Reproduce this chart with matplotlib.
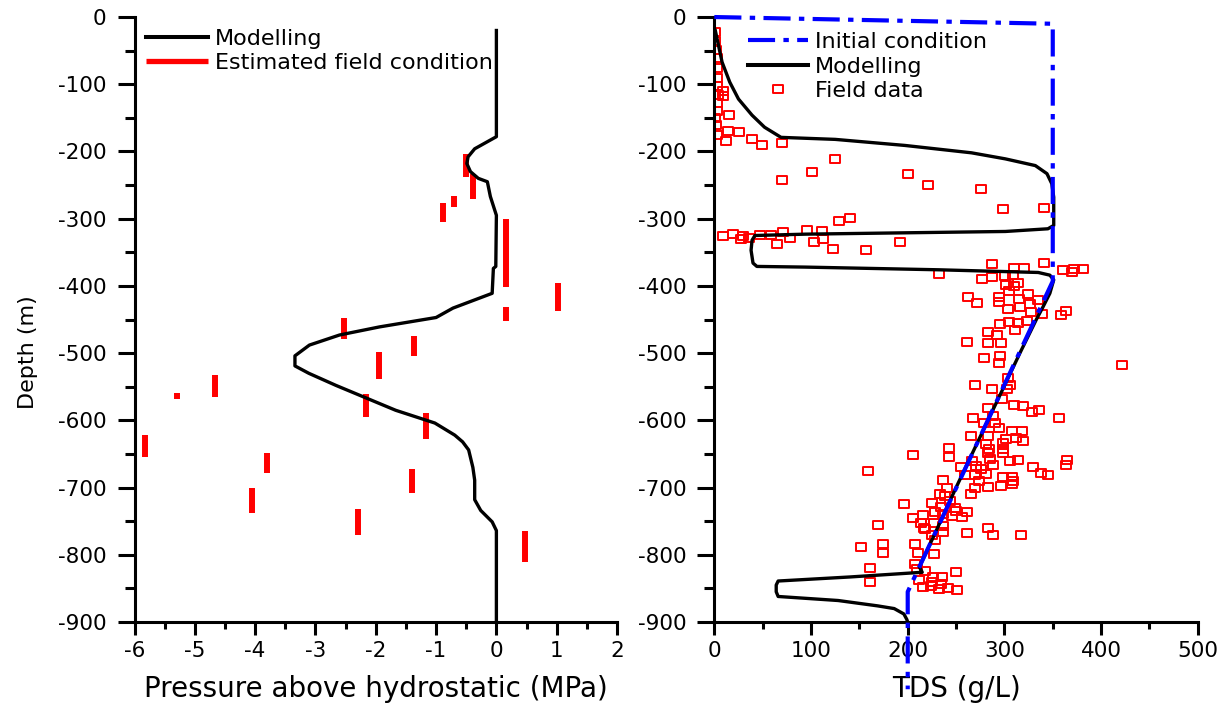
import matplotlib.pyplot as plt
from matplotlib.ticker import MultipleLocator
from matplotlib.lines import Line2D
from matplotlib.path import Path

plt.rcParams['font.family'] = ['DejaVu Sans']
plt.rcParams['axes.unicode_minus'] = False

# ---------- left panel: pressure above hydrostatic ----------
p_model = [0, 0, -0.16, -0.36, -0.47, -0.49, -0.43, -0.30, -0.15, -0.10, 0, -0.01,
           -0.05, -0.07, -0.72, -1.0, -1.94, -2.6, -3.1, -3.34, -3.34, -3.11, -2.66,
           -1.67, -1.02, -0.69, -0.56, -0.46, -0.39, -0.36, -0.36, -0.26, -0.07, 0, 0]
p_depth = [-20, -178, -186, -196, -208, -218, -230, -240, -245, -267, -295, -371,
           -374, -411, -433, -447, -461, -473, -488, -504, -519, -530, -548,
           -585, -604, -622, -632, -644, -670, -689, -718, -734, -751, -764, -900]

# estimated field condition (vertical bars)
est_p = [-0.50, -0.39, -0.70, -0.89, 0.16, 1.02, 0.16, -2.52, -1.36, -1.95,
         -4.67, -5.30, -2.17, -1.17, -5.83, -3.81, -1.40, -4.05, -2.30, 0.48]
est_top = [-204, -233, -266, -277, -300, -396, -431, -447, -474, -498,
           -532, -559, -561, -589, -622, -648, -673, -701, -732, -765]
est_bot = [-238, -271, -282, -305, -402, -437, -452, -479, -504, -539,
           -565, -568, -595, -628, -654, -679, -708, -738, -771, -811]

# ---------- right panel: TDS ----------
init_tds = [0, 350, 350, 200, 200]
init_depth = [0, -10, -393, -855, -1000]

tds_model = [1, 8, 16, 25, 39, 52, 69, 125, 197, 266, 301, 332, 344, 349, 351, 351,
             345, 301, 197, 94, 42, 39, 38, 40, 44, 94, 232, 335, 347, 351, 347,
             340, 333, 316, 283, 250, 218, 212, 215, 140, 66, 64, 64, 66, 128, 169,
             186, 196, 199, 200]
tds_model_depth = [-20, -67, -97, -122, -146, -164, -179, -182, -191, -202, -211, -221,
                   -233, -248, -268, -310, -315, -319, -321, -323, -325, -332, -347,
                   -366, -371, -372, -376, -380, -384, -391, -411, -431, -450, -500,
                   -600, -700, -800, -818, -826, -833, -839, -845, -855, -862, -868,
                   -876, -880, -888, -896, -900]

field_tds = [0.7, 0.7, 1.8, 2.5, 2.5, 2.5, 2.5, 0.7, 4, 9.3, 8.7, 3.1, 3.1, 0.7, 1.8, 3.1,
             15.5, 13.9, 11.8, 25.9, 38.7, 49.6, 69.7, 69.7, 100.7, 124.8,
             200.7, 220.7, 275.8, 298.9, 341, 129.3, 140.3, 9.3, 19.6, 27.3, 29.4, 36.2,
             47.3, 58.3, 71.4, 78.3, 64.5, 96.2, 111.7, 112.7, 103.4, 122.4, 156.6, 192,
             287.5, 310.2, 320.6, 341, 361, 372, 381,
             369.6, 232.4, 276.5, 287.5, 300.6, 309.2, 301.7, 310.2, 314.4, 305, 262.7,
             271.4, 294.4, 294.4, 315.4, 324.7, 326.5, 334.4, 303.4, 316.4, 327.5, 339.2,
             358.5, 363.7, 295.5, 305, 314.4, 323, 282.7, 292.3, 311, 261, 282.7, 296.2,
             278.6, 295.8, 294.4, 303.4, 269.6, 286.9, 305.8,
             421.3, 303, 297.2, 310.2, 318.9, 328.2, 335.8, 356.8, 283.4, 267.8, 287.9,
             278.9, 290.3, 294.4, 307.5, 317.9, 265.2, 282.7, 301.7, 312, 318.9, 298.9,
             243, 243, 205.2, 281, 284.4, 282.7, 298.9, 298.9, 285.1, 288.5, 305.8, 314.4,
             364.4, 363.4, 329.9, 337.5, 344.8, 266.2, 255.1, 270.3, 275.5, 259.3, 269.6,
             281, 298.9, 307.5, 309.2, 307.5, 296.2, 236.2, 273.7, 269.6, 283.4, 241,
             265.5, 233.4, 238.6, 196.2, 225.4, 243.7, 234.1, 248.9, 228.2, 236.8, 250,
             261, 256.5, 246.1, 216.1, 205.8, 213.8, 227.2, 236.8, 216.9, 283.4, 159,
             169.7, 218, 236.2, 224.8, 261, 287.9, 316.8, 151.7, 174.1, 174.1, 207.5, 211,
             227.2, 228.2, 161, 161, 207.5, 209.3, 218, 250, 212, 225.8, 235.2, 224.8,
             234.1, 216.1, 223.8, 232.4, 242, 250.7]
field_depth = [-23, -36, -49, -61, -76, -90, -102, -116, -116, -110, -117, -128, -140, -150,
               -161, -175, -145, -170, -184, -171, -181, -191, -187, -242, -231, -211,
               -234, -250, -256, -286, -284, -304, -299, -326, -323, -330, -326, -328,
               -324, -324, -320, -329, -337, -317, -318, -330, -334, -345, -346, -334,
               -368, -373, -373, -366, -376, -375, -375,
               -380, -383, -390, -386, -385, -384, -398, -400, -396, -408, -416,
               -426, -416, -424, -420, -412, -427, -421, -434, -432, -439, -442,
               -444, -437, -457, -453, -455, -452, -468, -473, -465, -484, -485, -485,
               -507, -504, -514, -537, -548, -553, -547,
               -518, -553, -568, -577, -579, -588, -585, -596, -581, -596, -593,
               -604, -604, -611, -616, -616, -624, -624, -628, -626, -631, -633,
               -641, -655, -652, -635, -642, -649, -642, -648, -658, -666, -661, -659,
               -659, -667, -669, -679, -681, -660, -670, -668, -673, -681, -681,
               -680, -685, -684, -690, -694, -697, -688, -690, -700, -699, -701,
               -709, -709, -713, -724, -723, -720, -729, -731, -737, -739, -735,
               -737, -744, -742, -741, -746, -752, -752, -757, -760, -760, -676,
               -755, -761, -766, -771, -768, -770, -770, -788, -784, -798, -784, -797,
               -799, -778, -820, -840, -814, -821, -824, -825, -837, -833, -833, -841,
               -843, -848, -847, -851, -850, -853]

# wide open square used for the field data
box = Path([(-1.3, -1), (1.3, -1), (1.3, 1), (-1.3, 1), (-1.3, -1)],
           [Path.MOVETO, Path.LINETO, Path.LINETO, Path.LINETO, Path.CLOSEPOLY])

fig = plt.figure(figsize=(12.24, 7.07), dpi=100)
ax1 = fig.add_axes([0.1099, 0.1202, 0.3942, 0.8557])
ax2 = fig.add_axes([0.5836, 0.1202, 0.3950, 0.8557])

# left
ax1.vlines(est_p, est_bot, est_top, colors='red', lw=4.3, zorder=2)
ax1.plot(p_model, p_depth, color='black', lw=2.4, zorder=3)
ax1.set_xlim(-6, 2)
ax1.set_ylim(-900, 0)
ax1.xaxis.set_major_locator(MultipleLocator(1))
ax1.xaxis.set_minor_locator(MultipleLocator(0.5))
ax1.set_xlabel('Pressure above hydrostatic (MPa)', fontsize=20)
ax1.set_ylabel('Depth (m)', fontsize=16)
ax1.xaxis.set_label_coords(0.5, -0.087)
ax1.yaxis.set_label_coords(-0.201, 0.446)
h1 = [Line2D([], [], color='black', lw=2.9),
      Line2D([], [], color='red', lw=3.8, solid_capstyle='butt')]
ax1.legend(h1, ['Modelling', 'Estimated field condition'], loc='upper left',
           bbox_to_anchor=(0.024, 0.980), frameon=False, fontsize=16,
           handlelength=2.79, handletextpad=0.32, labelspacing=0.18,
           borderpad=0, borderaxespad=0)

# right
ax2.plot(field_tds, field_depth, ls='none', marker=box, ms=7, mfc='none',
         mec='red', mew=1.4, zorder=2)
ax2.plot(tds_model, tds_model_depth, color='black', lw=2.4, zorder=3)
ax2.plot(init_tds, init_depth, color='#0000ff', lw=3.0, dashes=(6.5, 2, 1.3, 2),
         zorder=6, clip_on=False)
ax2.set_xlim(0, 500)
ax2.set_ylim(-900, 0)
ax2.xaxis.set_major_locator(MultipleLocator(100))
ax2.xaxis.set_minor_locator(MultipleLocator(50))
ax2.set_xlabel('TDS (g/L)', fontsize=20)
ax2.xaxis.set_label_coords(0.5, -0.087)
h2 = [Line2D([], [], color='#0000ff', lw=3.0, dashes=(6.5, 2, 1.3, 2)),
      Line2D([], [], color='black', lw=2.9),
      Line2D([], [], ls='none', marker=box, ms=7, mfc='none', mec='red', mew=1.4)]
ax2.legend(h2, ['Initial condition', 'Modelling', 'Field data'], loc='upper left',
           bbox_to_anchor=(0.070, 0.975), frameon=False, fontsize=16,
           handlelength=2.68, handletextpad=0.32, labelspacing=0.2,
           borderpad=0, borderaxespad=0, numpoints=1)

for ax in (ax1, ax2):
    ax.yaxis.set_major_locator(MultipleLocator(100))
    ax.yaxis.set_minor_locator(MultipleLocator(50))
    for s in ('top', 'right'):
        ax.spines[s].set_visible(False)
    for s in ('left', 'bottom'):
        ax.spines[s].set_linewidth(2.2)
    ax.tick_params(axis='both', which='both', direction='out', width=2.2, labelsize=15.5)
    ax.tick_params(axis='y', which='major', length=12, pad=8)
    ax.tick_params(axis='y', which='minor', length=7)
    ax.tick_params(axis='x', which='major', length=9.5, pad=4.5)
    ax.tick_params(axis='x', which='minor', length=5)

fig.savefig('out.png', dpi=100)
